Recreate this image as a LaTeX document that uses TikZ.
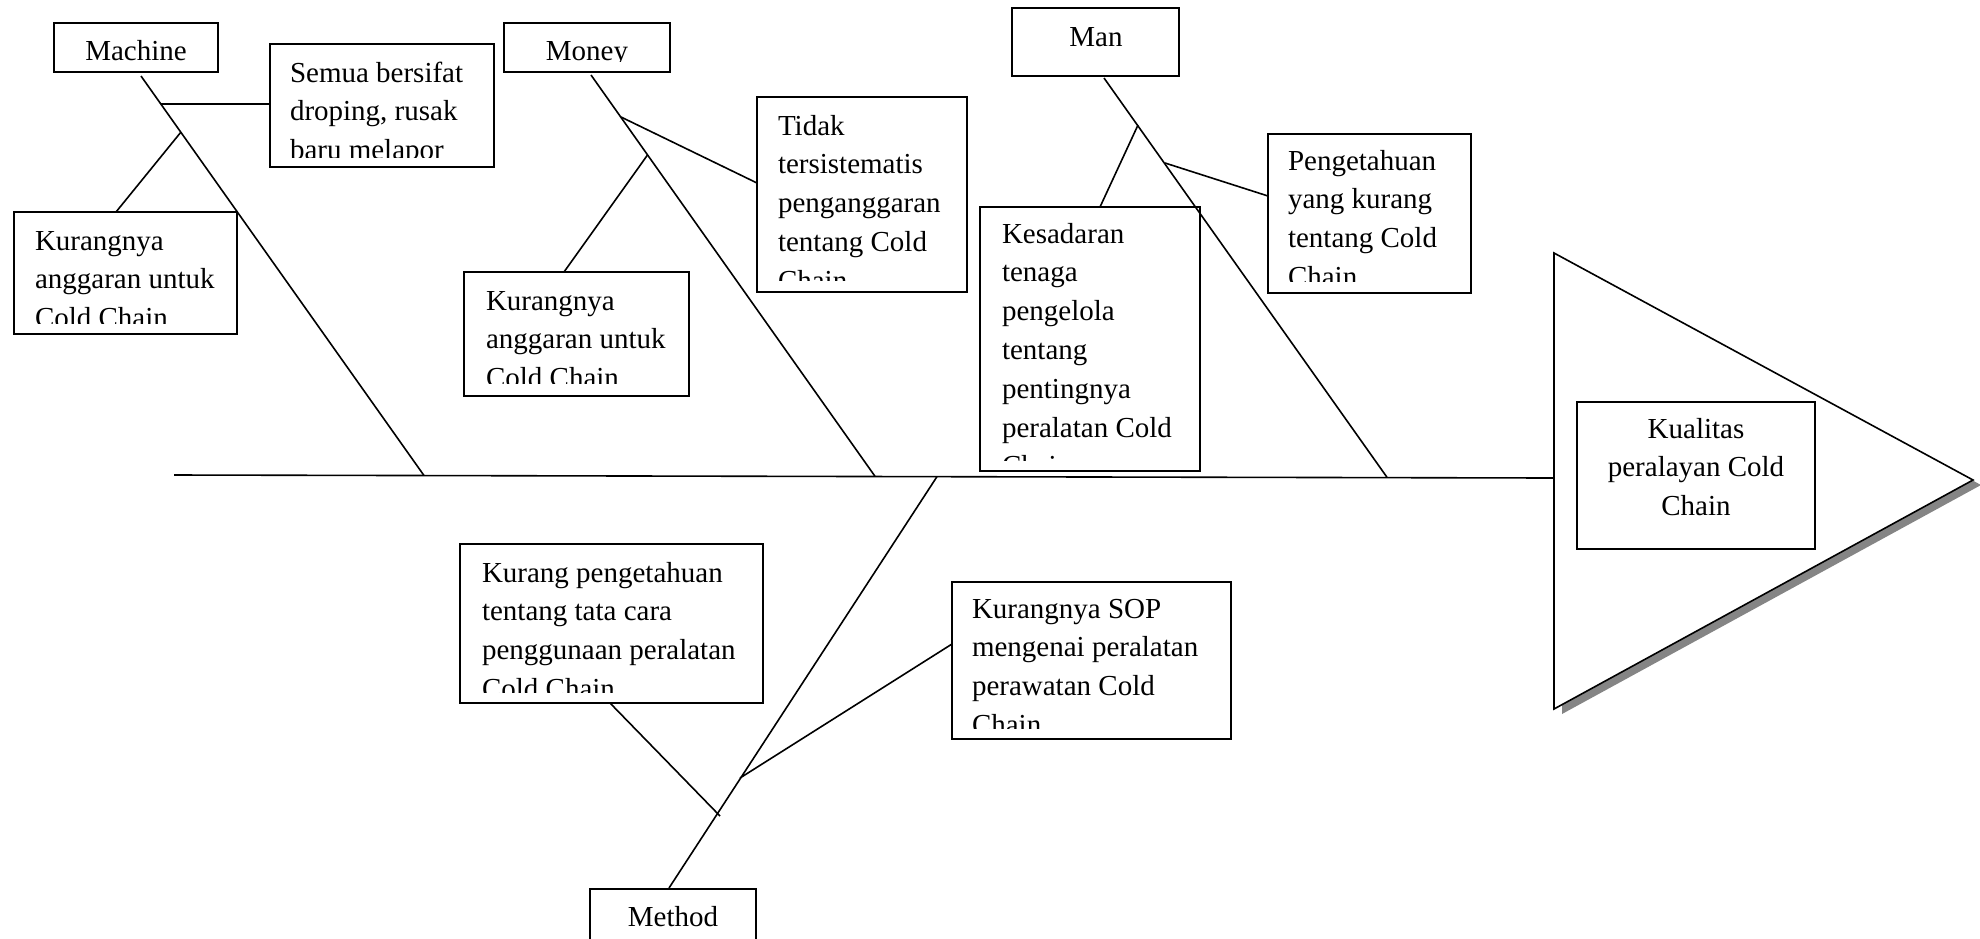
\documentclass[tikz,border=0pt]{standalone}
\usepackage{fontspec}
\setmainfont{Liberation Serif}
\usetikzlibrary{fit,calc}
\tikzset{
  box/.style={draw, line width=1pt, inner sep=0pt, outer sep=0pt},
  thinbox/.style={draw, line width=0.55pt, inner sep=0pt, outer sep=0pt},
  txt/.style={inner sep=0pt, outer sep=0pt, font=\fontsize{14.5}{19.4}\selectfont},
  bone/.style={line width=0.8pt},
  tri/.style={draw, line width=0.8pt, fill=white, line join=miter},
  shadow/.style={fill=black!48, draw=none}
}
% left-aligned clipped box: name, x1, y1, x2, y2, clip-y, text-x, baseline-y, text
\newcommand\lbox[9]{%
  \coordinate (#1-nw) at (#2,#3);
  \coordinate (#1-se) at (#4,#5);
  \node[box, fit=(#1-nw)(#1-se)] (#1) {};
  \begin{scope}
    \clip (#2,#3) rectangle (#4,#6);
    \node[txt, anchor=base west] (#1-t) at (#7,#8) {\parbox[t]{400pt}{\raggedright #9}};
  \end{scope}}
% centred clipped box: name, x1, y1, x2, y2, clip-y, centre-x, baseline-y, text
\newcommand\cbox[9]{%
  \coordinate (#1-nw) at (#2,#3);
  \coordinate (#1-se) at (#4,#5);
  \node[box, fit=(#1-nw)(#1-se)] (#1) {};
  \begin{scope}
    \clip (#2,#3) rectangle (#4,#6);
    \node[txt, anchor=base] (#1-t) at (#7,#8) {\parbox[t]{300pt}{\centering #9}};
  \end{scope}}
\begin{document}
\begin{tikzpicture}[x=0.5pt,y=-0.5pt]
\useasboundingbox (0,0) rectangle (1980,938);

% ---- boxes ----
\cbox{machine}{54}{23}{218}{72}{72}{136}{60}{Machine}
\lbox{semua}{270}{44}{494}{167}{157}{290}{82}{Semua bersifat\\droping, rusak\\baru melapor}
\lbox{kurA}{14}{212}{237}{334}{323}{35}{250}{Kurangnya\\anggaran untuk\\Cold Chain}
\cbox{money}{504}{23}{670}{72}{61}{587}{60}{Money}
\lbox{tidak}{757}{97}{967}{292}{280}{778}{135}{Tidak\\tersistematis\\penganggaran\\tentang Cold\\Chain}
\lbox{kurB}{464}{272}{689}{396}{383}{486}{310}{Kurangnya\\anggaran untuk\\Cold Chain}
\cbox{man}{1012}{8}{1179}{76}{76}{1096}{46}{Man}
\lbox{kesadaran}{980}{207}{1200}{471}{460}{1002}{243}{Kesadaran\\tenaga\\pengelola\\tentang\\pentingnya\\peralatan Cold\\Chain}
\lbox{pengetahuan}{1268}{134}{1471}{293}{281}{1288}{170}{Pengetahuan\\yang kurang\\tentang Cold\\Chain}
\lbox{kurang}{460}{544}{763}{703}{692}{482}{582}{Kurang pengetahuan\\tentang tata cara\\penggunaan peralatan\\Cold Chain}
\lbox{sop}{952}{582}{1231}{739}{728}{972}{618}{Kurangnya SOP\\mengenai peralatan\\perawatan Cold\\Chain}
\cbox{method}{590}{889}{756}{970}{970}{673}{926}{Method}

% ---- head (triangle with shadow) ----
\coordinate (triN) at (1554,253);
\coordinate (triE) at (1973,480);
\coordinate (triS) at (1554,709);
\coordinate (triW) at (1554,478);
\path[shadow] ($(triN)+(8,5)$) -- ($(triE)+(8,5)$) -- ($(triS)+(8,5)$) -- cycle;
\path[tri] (triN) -- (triE) -- (triS) -- cycle;
\coordinate (kual-nw) at (1577,402);
\coordinate (kual-se) at (1815,549);
\node[thinbox, fit=(kual-nw)(kual-se)] (kualitas) {};
\node[txt, anchor=base] (kualitas-t) at (1696,438) {\parbox[t]{300pt}{\centering Kualitas\\peralayan Cold\\Chain}};

% ---- spine ----
\coordinate (spL) at (174,475);
\draw[bone] (spL) -- (triW);

% ---- bones ----
\coordinate (mcS) at (424,475.5);
\coordinate (moS) at (875,476.3);
\coordinate (maS) at (1387,477.3);
\coordinate (meS) at (937,476.6);
\draw[bone] ($(machine.south west)+(87,4)$) -- (mcS);
\draw[bone] ($(money.south west)+(87,3)$) -- (moS);
\draw[bone] ($(man.south west)+(92,2)$) -- (maS);
\draw[bone] (meS) -- ($(method.north west)+(79,-1)$);

% ---- branch points on bones ----
\coordinate (mc1) at (161,104);
\coordinate (mc2) at (181,132);
\coordinate (mo1) at (621,117);
\coordinate (mo2) at (647.5,155);
\coordinate (ma1) at (1138,125);
\coordinate (ma2) at (1165,163);
\coordinate (me1) at (740,778);
\coordinate (me2) at (720,816);

% ---- sub-cause connectors ----
\draw[bone] (mc1) -- (semua.west |- mc1);
\draw[bone] (mc2) -- ($(kurA.north west)+(102,0)$);
\draw[bone] (mo1) -- ($(tidak.north west)+(0,86)$);
\draw[bone] (mo2) -- ($(kurB.north west)+(100,0)$);
\draw[bone] (ma1) -- ($(kesadaran.north west)+(120,0)$);
\draw[bone] (ma2) -- ($(pengetahuan.north west)+(0,62)$);
\draw[bone] ($(kurang.south west)+(150,0)$) -- (me2);
\draw[bone] (me1) -- ($(sop.north west)+(0,62)$);
\end{tikzpicture}
\end{document}
